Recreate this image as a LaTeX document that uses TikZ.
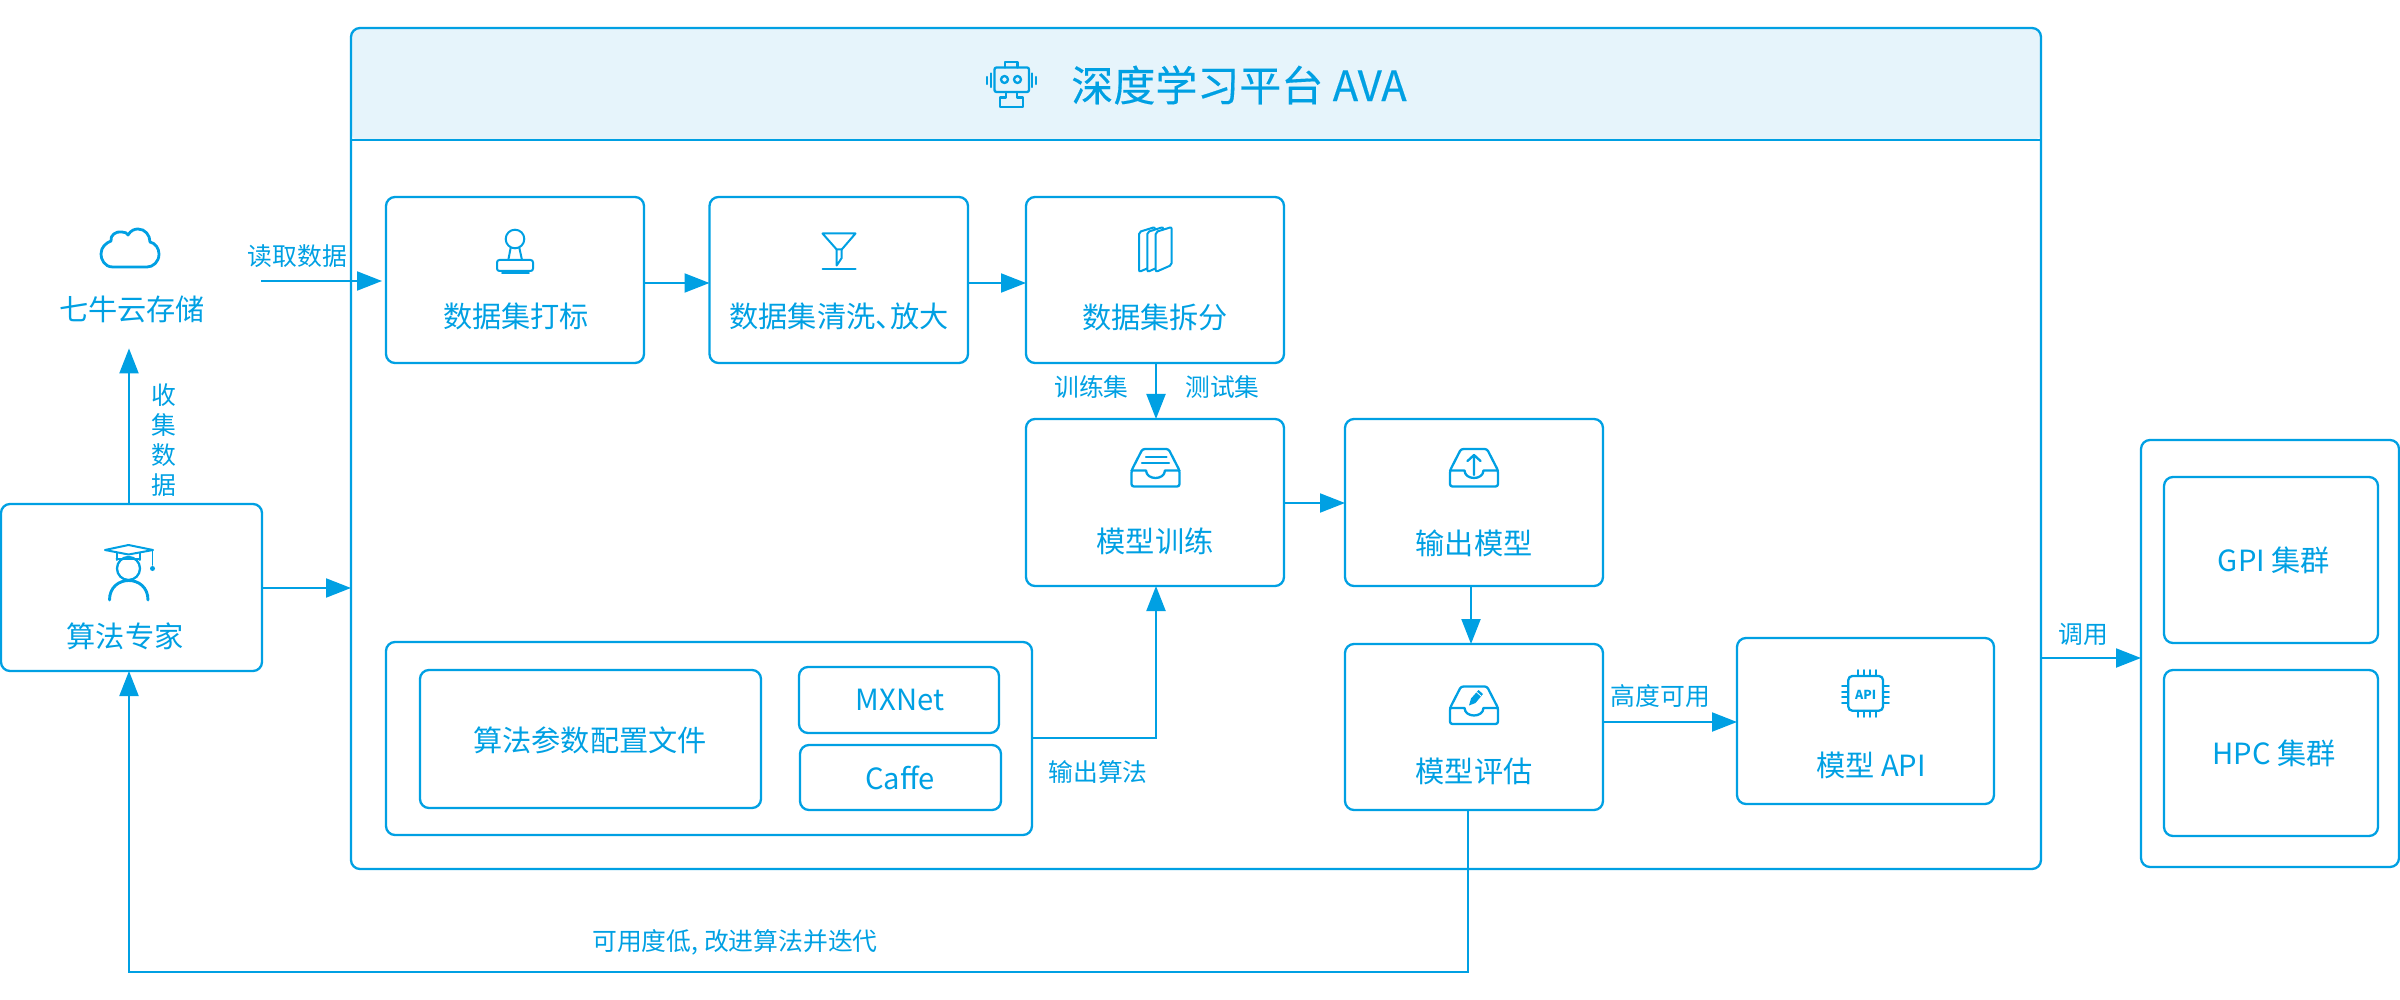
\documentclass[tikz,border=0pt]{standalone}
\usepackage{fontspec}
\setmainfont{Noto Sans CJK SC}
\newfontfamily\ttlfont[FakeBold=0.3]{Noto Sans CJK SC}
\usetikzlibrary{arrows.meta,fit}
\definecolor{ava}{HTML}{00A0E3}
\definecolor{hdr}{HTML}{E6F4FB}
\tikzset{
  boxst/.style={draw=ava,line width=1.15pt,rounded corners=4.5pt,inner sep=0pt,outer sep=0pt},
  link/.style={draw=ava,line width=1.05pt,-{Triangle[length=12.5pt,width=9.5pt]}},
  plainlink/.style={draw=ava,line width=1.05pt},
  big/.style={text=ava,inner sep=0pt,font=\fontsize{14.6}{16}\selectfont},
  small/.style={text=ava,inner sep=0pt,font=\fontsize{12.4}{14}\selectfont},
  title/.style={text=ava,inner sep=0pt,font=\ttlfont\fontsize{21}{24}\selectfont},
  ico/.style={draw=ava,line width=1.15pt,line join=round,line cap=round},
  sheet/.style={draw=ava,fill=white,line width=1pt,rounded corners=1pt},
}
\newcommand{\trayicon}[2]{%
  \draw[ico,shift={(#1,#2)},rounded corners=1.2pt] (-24,21.5) -- (-13,0) -- (13,0) -- (24,21.5) -- (24,37.5) -- (-24,37.5) -- cycle;
  \draw[ico,shift={(#1,#2)}] (-24,21.5) -- (-9.5,21.5) .. controls (-9,31.5) and (9,31.5) .. (9.5,21.5) -- (24,21.5);
}
\begin{document}
\begin{tikzpicture}[x=0.5pt,y=-0.5pt]
\useasboundingbox (0,0) rectangle (2400,1000);

% y levels of connectors
\coordinate (yread) at (0,281);
\coordinate (yflow) at (0,283);
\coordinate (yexp) at (0,588);
\coordinate (ytrain) at (0,503);
\coordinate (yalg) at (0,738);
\coordinate (yhigh) at (0,722);
\coordinate (ycall) at (0,658);
\coordinate (yback) at (0,972);
\coordinate (xin) at (261,0);
\coordinate (xintip) at (382,0);
\coordinate (xalg) at (1156,0);
\coordinate (xeval) at (1468,0);
\coordinate (xsplit) at (1156,0);
\coordinate (xout) at (1471,0);
\coordinate (xexp) at (129,0);

% platform
\fill[hdr,rounded corners=4pt] (351,140) -- (351,28) -- (2041,28) -- (2041,140) -- cycle;
\node[boxst,fit={(351,28)(2041,869)}] (main) {};
\draw[plainlink] (main.west |- 0,140) -- (main.east |- 0,140);

% boxes
\node[boxst,fit={(386,197)(644,363)}] (label) {};
\node[boxst,fit={(709.5,197)(968,363)}] (clean) {};
\node[boxst,fit={(1026,197)(1284,363)}] (split) {};
\node[boxst,fit={(1026,419)(1284,586)}] (train) {};
\node[boxst,fit={(1345,419)(1603,586)}] (out) {};
\node[boxst,fit={(1345,644)(1603,810)}] (eval) {};
\node[boxst,fit={(1737,638)(1994,804)}] (api) {};
\node[boxst,fit={(386,642)(1032,835)}] (algo) {};
\node[boxst,fit={(420,670)(761,808)}] (conf) {};
\node[boxst,fit={(799,667)(999,733)}] (mx) {};
\node[boxst,fit={(800,745)(1001,810)}] (caffe) {};
\node[boxst,fit={(1,504)(262,671)}] (expert) {};
\node[boxst,fit={(2141,440)(2399,867)}] (res) {};
\node[boxst,fit={(2164,477)(2378,643)}] (gpu) {};
\node[boxst,fit={(2164,670)(2378,836)}] (hpc) {};
\node[big,minimum height=39pt] (store) at (132,309) {七牛云存储};

% texts
\node[title] (ttl) at (1239,85) {深度学习平台 AVA};
\node[big] (t1) at (516,316) {数据集打标};
\node[big] (t2) at (839,316) {数据集清洗、\kern-0.5em 放大};
\node[big] (t3) at (1155,317) {数据集拆分};
\node[big] (t4) at (1155,541) {模型训练};
\node[big] (t5) at (1474,543) {输出模型};
\node[big] (t6) at (1474,771) {模型评估};
\node[big] (t7) at (1871,765) {模型 API};
\node[big] (t8) at (590,740) {算法参数配置文件};
\node[big] (t9) at (900,700) {MXNet};
\node[big] (t10) at (900,778) {Caffe};
\node[big] (t11) at (125,636) {算法专家};
\node[big] (t12) at (2274,560) {GPI 集群};
\node[big] (t13) at (2274,753) {HPC 集群};
\node[small] (l1) at (297.5,256) {读取数据};
\node[small] (l2a) at (164,395) {收};
\node[small] (l2b) at (164,425) {集};
\node[small] (l2c) at (164,455) {数};
\node[small] (l2d) at (164,485) {据};
\node[small] (l3) at (1091.5,387) {训练集};
\node[small] (l4) at (1222.5,387) {测试集};
\node[small] (l5) at (1098,772) {输出算法};
\node[small] (l6) at (1660.5,696) {高度可用};
\node[small] (l7) at (2083,634) {调用};
\node[small] (l8) at (735,942) {可用度低, 改进算法并迭代};

% connectors
\draw[link] (xin |- yread) -- (xintip |- yread);
\draw[link] (xexp |- expert.north) -- (xexp |- store.south);
\draw[link] (expert.east |- yexp) -- (main.west |- yexp);
\draw[link] (label.east |- yflow) -- (clean.west |- yflow);
\draw[link] (clean.east |- yflow) -- (split.west |- yflow);
\draw[link] (xsplit |- split.south) -- (xsplit |- train.north);
\draw[link] (train.east |- ytrain) -- (out.west |- ytrain);
\draw[link] (xout |- out.south) -- (xout |- eval.north);
\draw[link] (eval.east |- yhigh) -- (api.west |- yhigh);
\draw[link] (main.east |- ycall) -- (res.west |- ycall);
\draw[link] (algo.east |- yalg) -- (xalg |- yalg) -- (xalg |- train.south);
\draw[link] (xeval |- eval.south) -- (xeval |- yback) -- (xexp |- yback) -- (xexp |- expert.south);

% robot icon
\draw[ico,rounded corners=1pt] (994.5,67.5) rectangle (1029,92);
\draw[ico] (1005,67.5) -- (1005,62) -- (1017.5,62) -- (1017.5,67.5);
\draw[ico] (1004.5,79.5) circle (3.5);
\draw[ico] (1017.5,79.5) circle (3.5);
\draw[ico] (991,73.5) -- (991,87) (987,77) -- (987,84) (1032,73.5) -- (1032,87) (1036,77) -- (1036,84);
\draw[ico] (1006,92) -- (1006,97.5) -- (1000,97.5) -- (1000,107) -- (1023,107) -- (1023,97.5) -- (1017,97.5) -- (1017,92);

% cloud icon
\draw[ico,line width=1.4pt] (113,267) .. controls (104,267) and (101,259) .. (101,254)
  .. controls (101,247) and (106,243) .. (111,241) .. controls (110,235) and (116,231) .. (122,232)
  .. controls (125,232) and (127,233) .. (128,235) .. controls (131,230) and (135,229) .. (138,229)
  .. controls (145,229) and (150,235) .. (150,242) .. controls (155,243) and (159,248) .. (159,254)
  .. controls (159,262) and (153,267) .. (147,267) -- cycle;

% graduate icon
\draw[ico,line width=1pt] (105,550) -- (128.5,545) -- (153,550) -- (128.5,554.5) -- cycle;
\draw[ico,line width=1pt] (116.5,553) -- (116.5,560) (140,553) -- (140,560) (116.5,558.5) -- (140,558.5);
\draw[ico] (128.5,568.5) circle (11.5);
\draw[ico,line width=1.45pt] (109.5,600) .. controls (109.5,574) and (148,574) .. (148,600);
\draw[ico,line width=0.8pt] (152.5,550) -- (152.5,565);
\fill[ava] (152.5,568.5) circle (2.5);

% stamp icon
\draw[ico,line width=1pt] (515,239) circle (9.3);
\draw[ico,line width=1pt] (510.7,247.7) -- (508.3,260) (519.3,247.7) -- (522,260);
\draw[ico,rounded corners=1.2pt,line width=1pt] (497,260) rectangle (533,271);
\draw[ico,line width=0.8pt] (502,273) -- (529,273);

% funnel icon
\draw[ico,line width=1pt] (822.5,233.5) -- (855.5,233.5) -- (841.7,249.5) -- (836.7,249.5) -- cycle;
\draw[ico,line width=1pt] (836.7,249.5) -- (836.7,265.5) -- (841.7,258) -- (841.7,249.5);
\draw[ico,line width=1pt] (822.5,269) -- (855.5,269);

% sheets icon
\draw[sheet] (1139,232) -- (1155,227) -- (1155,265) -- (1139,272) -- cycle;
\draw[sheet] (1147.3,232) -- (1163.3,227) -- (1163.3,265) -- (1147.3,272) -- cycle;
\draw[sheet] (1155.7,232) -- (1171.7,227) -- (1171.7,265) -- (1155.7,272) -- cycle;

% tray icons
\trayicon{1155.5}{449}
\draw[ico] (1146,457) -- (1166.5,457) (1142,463) -- (1169,463);
\trayicon{1474}{449}
\draw[ico] (1474,475) -- (1474,455) (1467.5,461) -- (1474,455) -- (1480.5,461);
\trayicon{1474}{686.5}
\fill[ava] (1469,705.5) -- (1471,698.5) -- (1478.5,690) -- (1483,694) -- (1475.5,703) -- cycle;
\draw[white,line width=0.4pt] (1476.5,692) -- (1481,696);

% chip icon
\draw[ico,rounded corners=2pt] (1848.3,676) rectangle (1883,710.7);
\draw[ico,line width=0.9pt] (1858.3,670) -- (1858.3,676) (1864,670) -- (1864,676) (1870,670) -- (1870,676) (1875.7,670) -- (1875.7,676)
  (1858.3,710.7) -- (1858.3,717) (1864,710.7) -- (1864,717) (1870,710.7) -- (1870,717) (1875.7,710.7) -- (1875.7,717)
  (1842,686) -- (1848.3,686) (1842,691.7) -- (1848.3,691.7) (1842,697.3) -- (1848.3,697.3) (1842,703.3) -- (1848.3,703.3)
  (1883,686) -- (1889,686) (1883,691.7) -- (1889,691.7) (1883,697.3) -- (1889,697.3) (1883,703.3) -- (1889,703.3);
\node[text=ava,inner sep=0pt,font=\bfseries\fontsize{6.2}{7}\selectfont] (chiptxt) at (1865.7,695) {API};
\end{tikzpicture}
\end{document}
